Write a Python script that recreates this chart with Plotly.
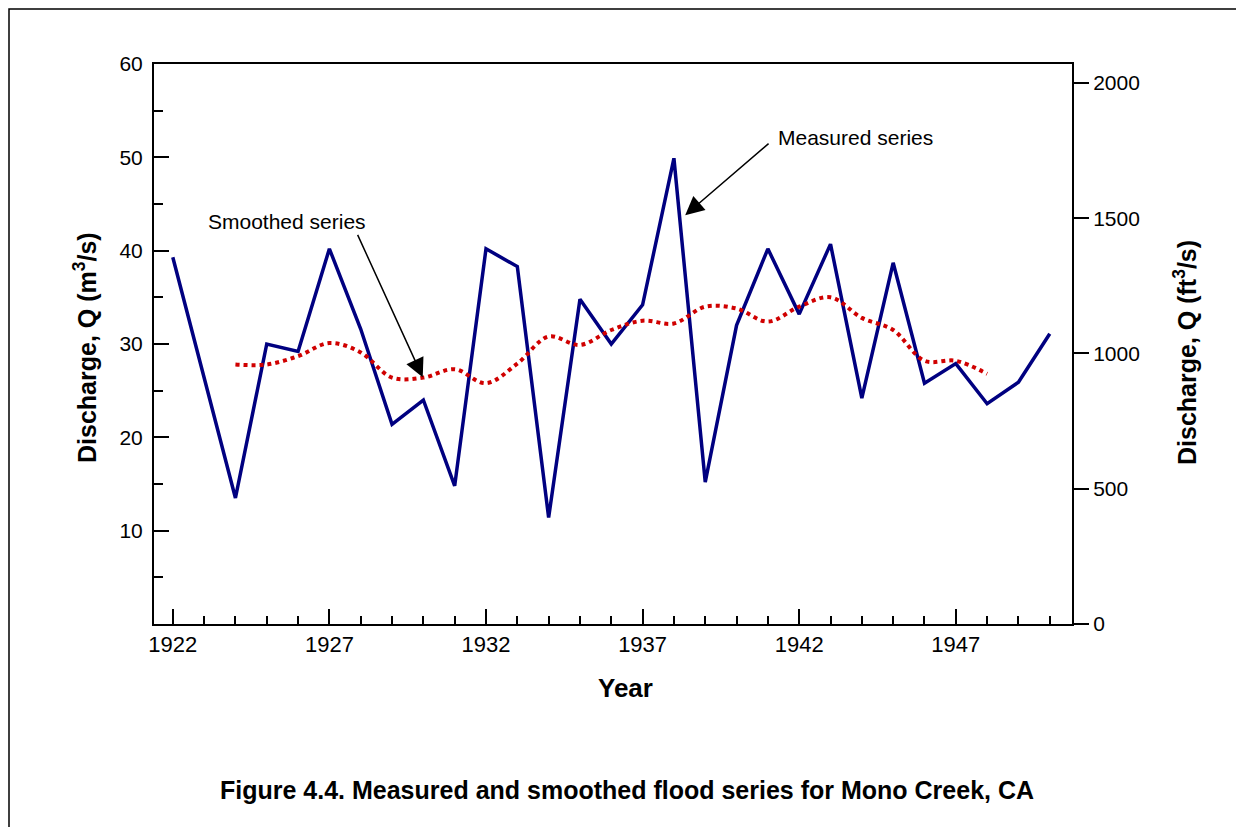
import plotly.graph_objects as go

# ---- data ----
measured_years = [1922, 1924, 1925, 1926, 1927, 1928, 1929, 1930, 1931, 1932,
                  1933, 1934, 1935, 1936, 1937, 1938, 1939, 1940, 1941, 1942,
                  1943, 1944, 1945, 1946, 1947, 1948, 1949, 1950]
measured_q = [39.3, 13.5, 30.0, 29.2, 40.2, 31.6, 21.4, 24.0, 14.8, 40.2,
              38.3, 11.4, 34.8, 30.0, 34.2, 49.9, 15.2, 32.0, 40.2, 33.2,
              40.7, 24.2, 38.7, 25.8, 27.9, 23.6, 25.9, 31.1]

smoothed_years = [1924, 1925, 1926, 1927, 1928, 1929, 1930, 1931, 1932, 1933,
                  1934, 1935, 1936, 1937, 1938, 1939, 1940, 1941, 1942, 1943,
                  1944, 1945, 1946, 1947, 1948]
smoothed_q = [27.8, 27.8, 28.7, 30.1, 29.1, 26.4, 26.4, 27.3, 25.8, 27.9,
              30.8, 29.9, 31.5, 32.5, 32.2, 34.0, 33.8, 32.4, 34.0, 35.0,
              32.8, 31.5, 28.2, 28.2, 26.8]

x_ticks = [1922, 1927, 1932, 1937, 1942, 1947]
y_left_ticks = [10, 20, 30, 40, 50, 60]
y_right_ticks = [0, 500, 1000, 1500, 2000]

FONT = "Liberation Sans, Arial, sans-serif"

fig = go.Figure()
fig.add_trace(go.Scatter(x=measured_years, y=measured_q, mode="lines",
                         line=dict(color="#000080", width=3.5),
                         showlegend=False))
fig.add_trace(go.Scatter(x=smoothed_years, y=smoothed_q, mode="lines",
                         line=dict(color="#D00000", width=4, dash="dot",
                                   shape="spline", smoothing=1),
                         showlegend=False))
# invisible trace to activate right axis
fig.add_trace(go.Scatter(x=[1922], y=[0], yaxis="y2", mode="markers",
                         marker=dict(opacity=0), showlegend=False,
                         hoverinfo="skip"))

fig.update_layout(
    width=1236, height=819,
    margin=dict(l=146, r=172, t=56, b=203),
    paper_bgcolor="white", plot_bgcolor="white",
    font=dict(family=FONT, color="black"),
    xaxis=dict(range=[1921.40, 1950.71], showgrid=False, zeroline=False,
               showline=True, linecolor="black", linewidth=2, mirror=True,
               tickmode="array", tickvals=x_ticks,
               ticks="inside", ticklen=15, tickwidth=2, tickcolor="black",
               tickfont=dict(size=22),
               minor=dict(ticks="inside", ticklen=8, tickwidth=2,
                          tickcolor="black", dtick=1, tick0=1922)),
    yaxis=dict(range=[0, 60], showgrid=False, zeroline=False,
               showline=True, linecolor="black", linewidth=2,
               tickmode="array", tickvals=y_left_ticks,
               ticks="inside", ticklen=15, tickwidth=2, tickcolor="black",
               tickfont=dict(size=21), ticklabelstandoff=5,
               minor=dict(ticks="inside", ticklen=9, tickwidth=2,
                          tickcolor="black", dtick=5, tick0=0)),
    yaxis2=dict(range=[0, 2070], overlaying="y", side="right",
                showgrid=False, zeroline=False,
                showline=True, linecolor="black", linewidth=2,
                tickmode="array", tickvals=y_right_ticks,
                ticks="outside", ticklen=15, tickwidth=2, tickcolor="black",
                tickfont=dict(size=21)),
)

# axis titles and caption as annotations (positions relative to plot area)
fig.add_annotation(xref="paper", yref="paper", x=(85 - 154) / 918,
                   y=(624 - 348) / 560, text="<b>Discharge, Q (m<sup>3</sup>/s)</b>",
                   textangle=-90, showarrow=False, font=dict(size=25),
                   xanchor="center", yanchor="middle")
fig.add_annotation(xref="paper", yref="paper", x=(1185 - 154) / 918,
                   y=(624 - 353) / 560, text="<b>Discharge, Q (ft<sup>3</sup>/s)</b>",
                   textangle=-90, showarrow=False, font=dict(size=25),
                   xanchor="center", yanchor="middle")
fig.add_annotation(xref="paper", yref="paper", x=(625 - 154) / 918,
                   y=(624 - 688) / 560, text="<b>Year</b>",
                   showarrow=False, font=dict(size=26),
                   xanchor="center", yanchor="middle")
fig.add_annotation(xref="paper", yref="paper", x=(627 - 154) / 918,
                   y=(624 - 790) / 560,
                   text="<b>Figure 4.4. Measured and smoothed flood series for Mono Creek, CA</b>",
                   showarrow=False, font=dict(size=25),
                   xanchor="center", yanchor="middle")

# series labels and arrows
fig.add_annotation(x=1941.26, y=52.15, text="Measured series", showarrow=False,
                   xanchor="left", yanchor="middle", font=dict(size=21))
fig.add_annotation(x=1938.36, y=43.8, ax=1941.07, ay=51.6, axref="x", ayref="y",
                   text="", showarrow=True, arrowhead=2, arrowsize=2.5,
                   arrowwidth=1.5, arrowcolor="black")
fig.add_annotation(x=1923.06, y=43.13, text="Smoothed series", showarrow=False,
                   xanchor="left", yanchor="middle", font=dict(size=21))
fig.add_annotation(x=1929.98, y=26.43, ax=1927.88, ay=41.85, axref="x", ayref="y",
                   text="", showarrow=True, arrowhead=2, arrowsize=2.5,
                   arrowwidth=1.5, arrowcolor="black")

# outer border frame (figure coords: plot area left=146, top=56, size 918x560)
fig.add_shape(type="rect", xref="paper", yref="paper",
              x0=(1 - 146) / 918, x1=(1260 - 146) / 918,
              y0=(616 - 840) / 560, y1=(616 - 1) / 560,
              line=dict(color="black", width=1.5), fillcolor="rgba(0,0,0,0)")

fig.write_html("out.html")
